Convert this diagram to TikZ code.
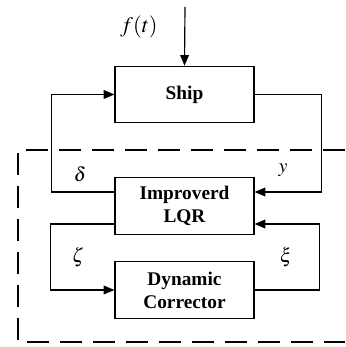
\documentclass[tikz,border=0pt]{standalone}
\usepackage{mathptmx}
\usepackage{fontspec}
\setmainfont{Liberation Serif}
\usetikzlibrary{arrows.meta}

\tikzset{
  block/.style={draw, line width=1pt, minimum width=4.17cm, minimum height=1.69cm, align=center,
    font=\fontsize{16.5}{19.5}\selectfont\bfseries},
  sig/.style={font=\fontsize{17}{20}\selectfont},
  link/.style={line width=1pt, -{Triangle[length=0.32cm,width=0.26cm]}}
}

\begin{document}
\begin{tikzpicture}[x=0.03cm, y=-0.03cm]

		\useasboundingbox (0,0) rectangle (345,347);

		% controller boundary
		\draw [line width=1pt, dash pattern=on 0.66cm off 0.33cm] (345,150) -- (18,150) -- (18,342) -- (345,342);

		% blocks
		\node[block] (ship) at (184.5,94.5) {Ship};
		\node[block] (lqr) at (184.5,206) {Improverd\\LQR};
		\node[block] (dc) at (184.5,290) {Dynamic\\Corrector};

		% disturbance
		\coordinate (dist) at (185,7);
		\draw [link] (dist) -- (ship.north);
		\node[sig, font=\fontsize{19}{22}\selectfont] (ft) at (139,27) {$f(t)$};

		% outer loop
		\draw [link] (ship.east) -- ++(67,0) |- ([yshift=0.42cm]lqr.east);
		\draw [link] ([yshift=0.42cm]lqr.west) -- ++(-63,0) |- (ship.west);
		\node[sig] (ylab) at (283,170) {$y$};
		\node[sig] (dlab) at (80,174) {$\delta$};

		% inner loop
		\draw [link] ([yshift=-0.54cm]lqr.west) -- ++(-64,0) |- (dc.west);
		\draw [link] (dc.east) -- ++(65,0) |- ([yshift=-0.54cm]lqr.east);
		\node[sig] (zlab) at (78,257) {$\zeta$};
		\node[sig] (xlab) at (286,257) {$\xi$};

	\end{tikzpicture}
\end{document}
